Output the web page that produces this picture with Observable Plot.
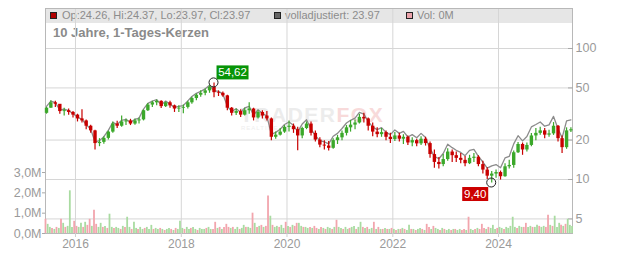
<!DOCTYPE html>
<html><head><meta charset="utf-8">
<script src="https://cdn.jsdelivr.net/npm/d3@7"></script>
<script src="https://cdn.jsdelivr.net/npm/@observablehq/plot@0.6"></script>
<style>
html,body{margin:0;padding:0;background:#fff;}
#chart{position:relative;width:632px;height:253px;font-family:"Liberation Sans",Arial,sans-serif;overflow:hidden;}
#chart svg{position:absolute;left:0;top:0;}
.band{position:absolute;left:45px;top:8px;width:527px;height:15px;background:#e6e6e6;}
.lg{position:absolute;top:8px;font-size:11px;line-height:14px;color:#8c8c8c;white-space:nowrap;}
.sq{position:absolute;top:12px;width:5px;height:5px;border:1px solid #222;}
.title{position:absolute;left:53px;top:25px;font-size:13px;font-weight:bold;line-height:15px;color:#8a8a8a;white-space:nowrap;}
.wm{position:absolute;left:240px;top:104px;font-size:21px;font-weight:bold;line-height:21px;letter-spacing:1.5px;white-space:nowrap;}
.wm2{position:absolute;left:241px;top:125px;font-size:6px;line-height:6px;color:#eeeeee;letter-spacing:1px;}
</style></head>
<body>
<div id="chart">
  <div class="band"></div>
  <div class="sq" style="left:50px;background:#b00000;"></div>
  <div class="lg" style="left:62px;">Op:24.26, Hi:24.37, Lo:23.97, Cl:23.97</div>
  <div class="sq" style="left:274px;background:#666;"></div>
  <div class="lg" style="left:285px;">volladjustiert: 23.97</div>
  <div class="sq" style="left:406px;background:#eba3ab;"></div>
  <div class="lg" style="left:417px;">Vol: 0M</div>
  <div class="title">10 Jahre, 1-Tages-Kerzen</div>
  <div class="wm"><span style="color:#ececec">TRADER</span><span style="color:#f8dada">FOX</span></div>
  <div class="wm2">REALTIME</div>
</div>
<script>
// ---- data (monthly candles, Jun 2015 .. May 2025) ----
const open = [
 32, 35, 38.5, 37.5, 33, 33.5, 32.5,
 31, 29, 28, 25.5, 23.5, 18.8, 19.2, 20.6, 23, 26.5, 25.5, 27.5,
 28, 26.5, 28, 28.5, 33.5, 37, 38.5, 39.5, 36, 38.5, 36.5, 34.5,
 35, 35.5, 38.5, 41.5, 44, 45.5, 47.5, 50.5, 46, 45.5, 43.5, 35,
 32, 33, 31, 33.5, 34.5, 29.5, 32.5, 30.5, 29, 21, 21.8, 23,
 25, 25.5, 24, 21.5, 24.5, 26.5, 22.5, 20, 18.3, 18, 17.3, 19.8,
 20.8, 22.5, 24.8, 26, 27, 29.8, 29, 25.5, 23, 22, 22.8, 21,
 20.2, 21.5, 20.3, 21, 19, 19.8, 18.7, 20.3, 18.8, 15.5, 13.5, 13,
 14.2, 16.2, 15.2, 14.5, 14, 13.2, 14.5, 14.8, 13, 11.8, 10.6, 11,
 11.3, 10.5, 12.5, 12.8, 16, 18.5, 16.8, 18.2, 21.5, 22.5, 23.5, 21.8,
 22.3, 25.5, 20.5, 17.5, 23.5
];
const high = [
 35.5, 40, 39.5, 37, 35, 34.5, 33,
 31.5, 34, 28.5, 26, 23.8, 20.5, 21.2, 23.5, 27.5, 27.8, 30.5, 29,
 28.8, 29, 29.5, 34, 38, 39.5, 40.5, 40, 39, 39.5, 37, 36.5,
 37, 39.5, 42.5, 45, 47.5, 49, 52, 54.62, 47.5, 46.5, 44, 35.5,
 34.5, 34, 35, 38.5, 35, 33.5, 33.5, 33, 29.5, 23, 24.5, 25.8,
 28, 26.5, 25, 25, 27.5, 27.5, 23.5, 20.8, 19.8, 19.5, 20.5, 21.7,
 23.5, 25.8, 28.2, 28.5, 31.5, 32, 29.5, 27, 24.8, 24.5, 23.5, 22.5,
 22.8, 22.5, 22, 21.5, 20.8, 20.3, 21.2, 21, 19.3, 16.8, 14.7, 15.5,
 17.2, 16.8, 16.2, 15.8, 15, 15.3, 15.8, 15.2, 13.8, 12.3, 11.5, 11.8,
 11.6, 13.2, 14, 16.5, 19.2, 19, 19, 22.4, 24.5, 25, 24.5, 23.8,
 27.2, 25.8, 21.5, 24.8, 24.8
];
const low = [
 31.5, 35, 35.5, 31.5, 30.5, 31, 29.5,
 27.5, 27, 24, 22.5, 16.8, 17.8, 18.6, 20, 22.5, 24.5, 25, 25.8,
 25.8, 26, 26.5, 28, 33, 35.5, 36.5, 34.8, 35.5, 35, 32.5, 32.5,
 31.8, 34.5, 37.5, 40, 42.5, 43.5, 45.5, 42, 43, 42.5, 33.5, 30.5,
 30.8, 29.7, 30.5, 31.5, 28, 29, 29, 28, 19.8, 20.3, 21.5, 22.5,
 23, 22.5, 16.6, 20.5, 24, 21.5, 19.3, 17.5, 16.8, 16.5, 17, 18.5,
 19.8, 21.5, 23, 24, 26.5, 27, 23.5, 21.2, 20.8, 21, 19.8, 18.8,
 19.5, 19.3, 18.5, 18.2, 17.8, 17.8, 18.2, 18, 14.5, 12.2, 12, 12.5,
 13.8, 13.5, 13.5, 13.2, 12.5, 13, 13.5, 12.5, 11, 10, 9.4, 10.2,
 9.9, 10.4, 12, 12.2, 15.8, 15.3, 16.2, 17.8, 19.8, 21.8, 20.5, 21,
 21.7, 19.3, 15.8, 17, 22.8
];
const close = [
 35, 38.5, 37.5, 33, 33.5, 32.5, 31,
 29, 28, 25.5, 23.5, 18.8, 19.2, 20.6, 23, 26.5, 25.5, 27.5, 28,
 26.5, 28, 28.5, 33.5, 37, 38.5, 39.5, 36, 38.5, 36.5, 34.5, 35,
 35.5, 38.5, 41.5, 44, 45.5, 47.5, 50.5, 46, 45.5, 43.5, 35, 32,
 33, 31, 33.5, 34.5, 29.5, 32.5, 30.5, 29, 21, 21.8, 23, 25,
 25.5, 24, 21.5, 24.5, 26.5, 22.5, 20, 18.3, 18, 17.3, 19.8, 20.8,
 22.5, 24.8, 26, 27, 29.8, 29, 25.5, 23, 22, 22.8, 21, 20.2,
 21.5, 20.3, 21, 19, 19.8, 18.7, 20.3, 18.8, 15.5, 13.5, 13, 14.2,
 16.2, 15.2, 14.5, 14, 13.2, 14.5, 14.8, 13, 11.8, 10.6, 11, 11.3,
 10.5, 12.5, 12.8, 16, 18.5, 16.8, 18.2, 21.5, 22.5, 23.5, 21.8, 22.3,
 25.5, 20.5, 17.5, 23.5, 23.97
];
// "volladjustiert" series (grey line)
const adjusted = [
 36.1, 39.7, 38.6, 34.0, 34.5, 33.5, 31.9,
 29.9, 28.8, 26.3, 24.2, 19.4, 19.8, 21.2, 23.7, 27.3, 26.3, 28.3, 28.8,
 27.3, 28.8, 29.4, 34.5, 38.1, 39.7, 40.7, 37.1, 39.7, 37.6, 35.5, 36.1,
 36.7, 39.8, 43.0, 45.5, 47.1, 49.2, 52.3, 47.6, 47.1, 45.0, 36.2, 33.1,
 34.7, 32.6, 35.2, 36.2, 31.0, 34.1, 32.0, 30.5, 22.1, 22.9, 24.2, 26.3,
 27.5, 25.9, 23.2, 26.5, 28.6, 24.3, 21.6, 19.8, 19.4, 18.7, 21.4, 22.5,
 24.5, 27.0, 28.3, 29.4, 32.5, 31.6, 27.8, 25.1, 24.0, 24.9, 22.9, 22.0,
 23.9, 22.5, 23.3, 21.1, 22.0, 20.8, 22.5, 20.9, 17.2, 15.0, 14.4, 15.8,
 18.6, 17.5, 16.7, 16.1, 15.2, 16.7, 17.0, 15.0, 13.6, 12.2, 12.7, 13.0,
 12.3, 14.6, 15.0, 18.7, 21.6, 19.7, 21.3, 25.2, 26.3, 27.5, 25.5, 26.1,
 30.3, 24.4, 20.8, 28.0, 28.5
];
// volume in millions, two bars per month; negative = down day (pink), positive = up day (green)
const volume = [
 -0.7, 0.45, 0.3, -0.25, 0.2, -0.3, 0.25, -0.7, 0.5, -0.3, 0.35, 2.1, 0.3, -0.6, -0.35, 0.3, 0.5, -0.3, 0.55, -0.4, -0.7, 0.35, -1.15, -0.45,
 0.3, 0.5, -0.3, 0.35, -0.25, 0.95, 0.3, -0.25, 0.3, 0.25, -0.2, 0.35, -0.3, 0.8, 0.3, -0.2, 0.55, 0.25, -0.2, 0.3, 0.2, -0.25, 0.3, 0.2,
 0.4, -0.2, 0.25, 0.2, -0.25, 0.2, -0.15, 0.2, 0.25, -0.2, 0.15, -0.25, 0.2, 0.6, 0.25, -0.2, 0.3, 0.2, -0.25, 0.3, 0.2, -0.15, 0.25, 0.2,
 0.2, -0.25, 0.3, 0.2, -0.2, -0.55, 0.25, -0.3, 0.2, -0.3, -0.45, -0.3, 0.25, -0.3, 0.2, 0.3, -0.2, 0.25, 0.4, -0.3, 0.3, 0.25, -1.0, 0.5,
 -0.3, 0.35, -0.4, 0.3, -0.35, -1.85, 0.85, -0.4, 0.3, 0.35, -0.3, 0.4, 0.25, -0.55, 0.35, -0.3, 0.4, -0.35, -0.5, 0.5, 0.35, -0.3, 0.3, 0.25,
 -0.3, 0.25, -0.35, -0.25, 0.2, -0.3, 0.25, -0.2, 0.3, 0.25, -0.2, 0.3, -0.65, 0.3, 0.25, -0.2, 0.3, 0.2, -0.25, 0.3, 0.35, -0.2, 0.3, 0.55,
 -0.3, 0.25, -0.3, 0.2, 0.25, -0.55, 0.2, -0.3, 0.2, -0.2, 0.25, -0.2, 0.2, -0.25, 0.2, -0.15, 0.2, -0.2, 0.25, -0.2, 0.15, 0.4, -0.2, 0.2,
 -0.15, 0.2, 0.25, -0.2, 0.15, -0.45, -0.3, 0.2, -0.35, 0.25, 0.2, -0.15, 0.25, -0.2, 0.15, 0.2, -0.15, 0.2, -0.2, 0.15, 0.2, -0.15, -0.2, 0.15,
 -0.8, 0.2, 0.15, -0.2, 0.25, -0.2, -0.45, -0.25, 0.2, -0.3, 0.25, 0.4, 0.2, -0.25, 0.3, 0.25, -0.2, 0.3, 0.25, 0.35, 0.8, 0.3, -0.25, 0.35,
 0.3, -0.3, -0.5, 0.3, 0.35, -0.3, 0.3, 0.4, -0.35, 0.3, 0.35, -0.3, -0.9, 0.4, -0.35, 0.85, 0.3, 0.5, -0.4, 0.35, -0.45, 0.7, 0.4, 0.35
];
const yearTicks = [2016, 2018, 2020, 2022, 2024];
const priceTicks = [5, 10, 20, 50, 100];
const volumeTicks = [0, 1, 2, 3];
const markerMonths = ["2018-08", "2023-11"];
const markerValues = [54.62, 9.40];
const markerLabels = ["54,62", "9,40"];
const markerColors = ["#079407", "#cc0000"];
const markerSide = ["above-right", "below-left"];

// ---- build tables ----
const months = d3.utcMonth.range(new Date(Date.UTC(2015, 5, 1)), new Date(Date.UTC(2025, 5, 1)));
const candles = months.map((m, i) => ({
  date: d3.utcDay.offset(m, 14), open: open[i], high: high[i], low: low[i], close: close[i], adj: adjusted[i]
}));
const volBars = volume.map((v, i) => ({
  date: d3.utcDay.offset(months[Math.floor(i / 2)], i % 2 ? 22 : 7), v: Math.abs(v), up: v >= 0
}));
const markers = markerMonths.map((m, i) => ({
  date: d3.utcDay.offset(d3.utcParse("%Y-%m")(m), 14), value: markerValues[i], text: markerLabels[i], color: markerColors[i], side: markerSide[i]
}));
const yearDates = yearTicks.map(y => new Date(Date.UTC(y, 0, 1)));
const xDomain = [new Date(Date.UTC(2015, 5, 8)), new Date(Date.UTC(2025, 4, 26))];

const UP = "#3ba82a", DOWN = "#c80000";
const common = {
  width: 632, height: 253, marginTop: 8, marginBottom: 20, marginLeft: 45, marginRight: 60,
  style: {background: "transparent", color: "#9a9a9a", fontFamily: "'Liberation Sans', Arial, sans-serif", fontSize: "12px", overflow: "visible"}
};

function annotate(index, scales) {
  const g = d3.create("svg:g");
  for (const a of markers) {
    const cx = scales.x(a.date), cy = scales.y(a.value);
    const w = a.text.length * 6 + 2, h = 14;
    const bx = a.side === "above-right" ? cx + 3 : cx - 3 - w;
    const by = a.side === "above-right" ? cy - 3 - h : cy + 4.5;
    g.append("rect").attr("x", bx).attr("y", by).attr("width", w).attr("height", h).attr("fill", a.color);
    g.append("text").attr("x", bx + w / 2).attr("y", by + 11).attr("text-anchor", "middle")
      .attr("fill", "#fff").attr("font-size", 11.5).text(a.text);
    g.append("circle").attr("cx", cx).attr("cy", cy).attr("r", 4.5).attr("fill", "none").attr("stroke", "#222").attr("stroke-width", 1);
  }
  return g.node();
}

const priceChart = Plot.plot({
  ...common,
  x: {type: "utc", domain: xDomain, label: null},
  y: {type: "log", domain: [3.87, 202], label: null},
  color: {type: "identity"},
  marks: [
    Plot.gridX(yearDates, {stroke: "#d6d6d6", strokeOpacity: 1}),
    Plot.gridY(priceTicks, {stroke: "#d6d6d6", strokeOpacity: 1}),
    Plot.frame({stroke: "#b8b8b8"}),
    Plot.axisX(yearDates, {tickFormat: "%Y", tickSize: 4, tickPadding: 2, stroke: "#cfcfcf", label: null}),
    Plot.axisY(priceTicks, {anchor: "right", tickSize: 5, dx: -5, fill: "none", stroke: "#a8a8a8", label: null}),
    Plot.text(priceTicks, {y: d => d, text: d => String(d), frameAnchor: "right", textAnchor: "start", dx: 3, fill: "#9a9a9a", fontSize: 12.5}),
    Plot.line(candles, {x: "date", y: "adj", stroke: "#8c8c8c", strokeWidth: 1.3}),
    Plot.ruleX(candles, {x: "date", y1: "low", y2: "high", stroke: d => d.close >= d.open ? UP : DOWN, strokeWidth: 1.2}),
    Plot.ruleX(candles, {x: "date", y1: "open", y2: "close", stroke: d => d.close >= d.open ? UP : DOWN, strokeWidth: 3.4}),
    annotate
  ]
});

const volumeChart = Plot.plot({
  ...common,
  x: {type: "utc", domain: xDomain, axis: null},
  y: {domain: [0, 11.07], label: null},
  color: {type: "identity"},
  marks: [
    Plot.ruleX(volBars, {x: "date", y1: 0, y2: "v", stroke: d => d.up ? "#a9dba1" : "#f2a5ad", strokeWidth: 1.8}),
    Plot.axisY(volumeTicks, {anchor: "left", tickSize: 3, tickPadding: 1, stroke: "#a8a8a8",
      tickFormat: d => d.toFixed(1).replace(".", ",") + "M", label: null, fontSize: 12.5})
  ]
});

const chart = document.getElementById("chart");
chart.appendChild(priceChart);
chart.appendChild(volumeChart);
</script>
</body></html>
